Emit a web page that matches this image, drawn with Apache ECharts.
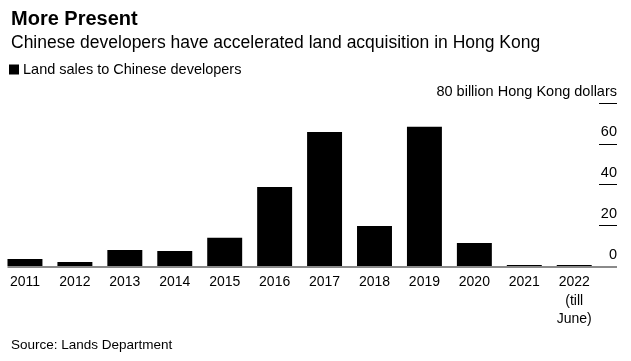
<!DOCTYPE html>
<html>
<head>
<meta charset="utf-8">
<script src="https://cdn.jsdelivr.net/npm/echarts@6/dist/echarts.min.js"></script>
<style>html,body{margin:0;padding:0;background:#fff}#c{width:631px;height:361px}</style>
</head>
<body>
<div id="c"></div>
<script>
var categories = ['2011','2012','2013','2014','2015','2016','2017','2018','2019','2020','2021','2022\n(till\nJune)'];
var landSales = [3.4, 2.0, 7.9, 7.4, 13.9, 38.8, 65.9, 19.7, 68.5, 11.3, 0.5, 0.5];
var yTicks = [0, 20, 40, 60, 80];
var unitLabel = '80 billion Hong Kong dollars';

var FONT = '"Liberation Sans", Arial, Helvetica, sans-serif';
var chart = echarts.init(document.getElementById('c'), null, {renderer: 'canvas'});
var gridLeft = -0.8, gridRight = 31.8, axisOffset = 17.8;
var option = {
  animation: false,
  backgroundColor: '#fff',
  textStyle: {fontFamily: FONT, color: '#000'},
  title: [
    {text: 'More Present', left: 6, top: 4, textStyle: {fontFamily: FONT, fontSize: 20, fontWeight: 'bold', color: '#000'}},
    {text: 'Chinese developers have accelerated land acquisition in Hong Kong', left: 6, top: 29, textStyle: {fontFamily: FONT, fontSize: 17.5, fontWeight: 'normal', color: '#000'}},
    {text: 'Source: Lands Department', left: 6, top: 333, textStyle: {fontFamily: FONT, fontSize: 13.5, fontWeight: 'normal', color: '#000'}}
  ],
  legend: {
    left: 4, top: 57, icon: 'rect', itemWidth: 10, itemHeight: 10, itemGap: 10,
    textStyle: {fontFamily: FONT, fontSize: 14.5, color: '#000', padding: [0,0,0,-1]},
    data: ['Land sales to Chinese developers']
  },
  grid: {left: gridLeft, right: gridRight, top: 103.3, bottom: 95, containLabel: false},
  xAxis: {
    type: 'category', data: categories,
    axisLine: {show: false}, axisTick: {show: false},
    axisLabel: {fontFamily: FONT, fontSize: 14, color: '#000', margin: 7, lineHeight: 18.5, interval: 0}
  },
  yAxis: {
    type: 'value', position: 'right', offset: axisOffset, min: 0, max: 80, interval: 20,
    axisLine: {show: false}, splitLine: {show: false},
    axisTick: {show: true, inside: true, length: 18, lineStyle: {color: '#000', width: 1}},
    axisLabel: {
      inside: true, margin: 0, align: 'right', verticalAlign: 'bottom', padding: [0,0,4,0],
      fontFamily: FONT, fontSize: 14.5, color: '#000',
      formatter: function (v) { return v === 80 ? unitLabel : String(v); }
    }
  },
  series: [{
    name: 'Land sales to Chinese developers', type: 'bar', data: landSales,
    barCategoryGap: '30%', itemStyle: {color: '#000'}, z: 3
  }]
};
chart.setOption(option);
var x0 = chart.convertToPixel({xAxisIndex: 0}, 0);
var x1 = chart.convertToPixel({xAxisIndex: 0}, 1);
var barW = (x1 - x0) * 0.7;
var yZero = chart.convertToPixel({yAxisIndex: 0}, 0);
var axisX = 631 - gridRight + axisOffset;
chart.setOption({
  graphic: [{
    type: 'line', z: 1,
    shape: {x1: x0 - barW / 2, y1: yZero + 1, x2: axisX, y2: yZero + 1},
    style: {stroke: '#8a8a8a', lineWidth: 2}
  }]
});
</script>
</body>
</html>
